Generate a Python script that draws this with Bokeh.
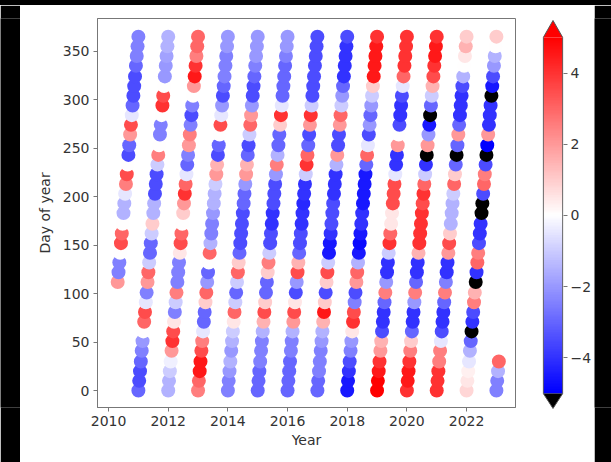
from bokeh.plotting import figure
from bokeh.models import ColumnDataSource, LinearColorMapper, FixedTicker, Range1d
from bokeh.layouts import row, column
from bokeh.embed import file_html
from bokeh.resources import INLINE
import numpy as np

# ---- data: anomaly value sampled along day of year for each year ----
DOY = [0, 10, 20, 30, 41, 51, 61, 71, 81, 91, 101, 112, 122, 132, 142, 152, 162, 172, 183,
       193, 203, 213, 223, 233, 243, 253, 264, 274, 284, 294, 304, 314, 324, 335, 345, 355, 365]

YEARS = [2010, 2011, 2012, 2013, 2014, 2015, 2016, 2017, 2018, 2019, 2020, 2021, 2022, 2023]

v2010 = [None] * 11 + [2, -2.5, -2.5, 0, 3.5, 3, 0, -1.5, -1.5, -0.5, 2.5, 3.5, 0, -3.5, -3, 2,
                       3.5, -0.5, -3, -3.5, -3.5, -3.5, -3, -2.5, -2.5, -2.5]
v2011 = [-3, -3.5, -3.5, -3, -2.5, -2, 0, 3, 3.5, -0.5, -2.5, 2, 3, -1, -3, -3, -1, 1, -1.5, -1.5,
         -3.5, -3.5, -3.5, -1, 2.5, 0, -2.5, -2.5, 0, 4, 3.5, 0, -2, -2, -1.8, -1.5, -1.5]
v2012 = [-1.5, -1.5, -1, -0.3, 2, 4, 3.5, 0.5, -2.5, -1, 2.5, -2.5, -2.5, -2.5, 0.5, 3.5, 3, 0, 1, 2,
         4, 3, -0.5, -3, -2.5, 2, 2.5, -2.5, -3.5, -2.5, 0, 2, 4.5, 4, 2.5, 3, 3]
v2013 = [2.5, 3, 4.5, 4.5, 3.5, 2.5, -0.5, -3, -3, 1, 3, -2, -3, 0, 3, -1.5, -2.5, -2.5, -2, -1.5,
         -1.5, -1, 2, 1.5, -3.5, -3, 0, 3.5, -0.5, -2, -3.5, -3, -2.5, -2.5, -2.5, -2, -2]
v2014 = [-2.5, -2.5, -2, -1.5, -2, -1.5, -1, 0.5, 3, -1, -3, -1, 3, 1, -3, -3.5, -3.5, -3.5, -3.5, -3,
         -3, -2, 2, 1.5, -3, -3.5, -1, 3, 2, -2, -3.5, -3.5, -3, -2.5, -2, -2, -2]
v2015 = [-3, -3, -3, -2.5, -2.5, -2.5, -1.5, 1.5, 3.5, 1, -3, -3, 1, 2.5, -1, -3.5, -3.5, -4, -4, -3.5,
         -3.5, -3.5, -2, 2.5, -1.5, -3, -3, 1, 4, -0.5, -3, -3, -3, -3, -2.5, -2, -2]
v2016 = [-3, -3, -3, -3, -2.5, -2.5, -1.5, 2, 3.5, 0.5, -3.5, -2, 3.5, 1.5, -3, -3.5, -3.5, -4, -4, -4.2,
         -4, -4, -1, 4, 3, -3, -3.5, 2, 4, -1, -3.5, -3.5, -3.5, -3.5, -3.5, -3.5, -3.5]
v2017 = [-3, -3, -2.5, -2.5, -2.5, -2, -1.5, 1.5, 4.5, 1, -3.5, 1, 3.5, -1, -4.5, -4.5, -4, -3.5, -3.5, -3.5,
         -4, -4, -4, -1.5, 2, -3.5, -3.5, 2, 3, -1, -2, -3, -4, -4, -4, -4, -3.5]
v2018 = [-4.5, -4.5, -4, -3.5, -2.5, -2, 0.5, 4, 3.5, -2.5, -3.5, 2, 3, -1.5, -4.5, -4.8, -4.5, -4, -4, -4.5,
         -4.5, -4.5, -4.5, -3, 3, -0.5, -3.5, -2, -3, -2, -1, 1, 4.5, 4.5, 4.5, 4.5, 4]
v2019 = [5, 5, 4.5, 4, 2, 1.5, -3.5, -4, -4, -3, 2.5, -2, -4, -4, -1, 4, 3, 0.5, 0.5, 3.5,
         3.5, 3.5, -0.5, -4, -4, 2, 0, -3.5, -4, -4, -3.5, -0.5, 3, 4, 4, 4, 4]
v2020 = [4, 4.5, 4.5, 4, 2.5, 1, -3, -4, -4, -2, 2.5, -3, -4, -4, 1.5, 4, 4, 4, 4, 3.5,
         4, 3, -1, -4, -5.3, 2, -2, -4.5, -5.5, -3, -1, 1.5, 3.5, 4, 4.5, 4.5, 4]
v2021 = [4, 4, 4, 2.5, 2.5, -0.5, -3.5, -4, -4, -3, 2.5, -2.5, -4, -4, 2, 3.5, 1, -1.5, -1.5, -1.5,
         -1, 3, 1, -3, -5.3, -3, 2, -3, -4, -4, -4, -3.5, -1.5, 0, 0.5, 1.5, 1]
v2022 = [0.8, 0.5, 0.3, -0.5, -1.5, -3, -5.5, -4, -3.5, 2.5, 1.5, -5.5, -4, 3, 2.5, -3.5, -4, -4, -5.8, -5.8,
         -3.5, 3, 2.5, -3.5, -5.5, -5, 2, -4, -4, -4, -5.5, -4.5, -3.5, -2, -1.5, 0, 1]
v2023 = [-2.5, -2.5, -1.5, 3] + [None] * 33

SERIES = [v2010, v2011, v2012, v2013, v2014, v2015, v2016, v2017, v2018, v2019, v2020, v2021, v2022, v2023]

X_TICKS = [2010, 2012, 2014, 2016, 2018, 2020, 2022]
Y_TICKS = [0, 50, 100, 150, 200, 250, 300, 350]
CB_TICKS = [-4, -2, 0, 2, 4]
CB_LABELS = {-4: "\u22124", -2: "\u22122", 0: "0", 2: "2", 4: "4"}

# ---- build point table ----
xs, ys, vs = [], [], []
for yr, vals in zip(YEARS, SERIES):
    for d, v in zip(DOY, vals):
        if v is None:
            continue
        xs.append(yr + d / 365.0)
        ys.append(d)
        vs.append(v)
src = ColumnDataSource(dict(x=xs, y=ys, v=vs))

# bwr colormap
pal = []
for i in range(256):
    t = i / 255
    if t < 0.5:
        c = int(round(255 * t * 2))
        pal.append("#%02x%02x%02x" % (c, c, 255))
    else:
        c = int(round(255 * (1 - t) * 2))
        pal.append("#%02x%02x%02x" % (255, c, c))
mapper = LinearColorMapper(palette=pal, low=-5, high=5, low_color="#000000", high_color="#ff0000")

FONT = "DejaVu Sans"
TXT = "#333333"
SPINE = "#777777"
FS = "14px"
H = 457

p = figure(frame_width=418, frame_height=389,
           min_border_left=77, min_border_right=15, min_border_top=13, min_border_bottom=55,
           x_range=Range1d(2009.63, 2023.64), y_range=Range1d(-17.5, 383.7),
           toolbar_location=None, output_backend="svg")
p.scatter(x="x", y="y", source=src, marker="circle", size=14,
          fill_color={"field": "v", "transform": mapper}, line_color=None)

p.xgrid.visible = False
p.ygrid.visible = False
p.outline_line_color = SPINE
p.outline_line_width = 1
p.background_fill_color = "white"
p.border_fill_color = "white"
p.xaxis.ticker = FixedTicker(ticks=X_TICKS)
p.yaxis.ticker = FixedTicker(ticks=Y_TICKS)
p.xaxis.axis_label = "Year"
p.yaxis.axis_label = "Day of year"
for ax in (p.xaxis[0], p.yaxis[0]):
    ax.axis_line_color = SPINE
    ax.major_tick_line_color = SPINE
    ax.major_tick_out = 4
    ax.major_tick_in = 0
    ax.minor_tick_out = 0
    ax.minor_tick_in = 0
    ax.major_label_text_font = FONT
    ax.major_label_text_font_size = FS
    ax.major_label_text_color = TXT
    ax.axis_label_text_font = FONT
    ax.axis_label_text_font_size = FS
    ax.axis_label_text_font_style = "normal"
    ax.axis_label_text_color = TXT
    ax.major_label_standoff = 4
p.xaxis.axis_label_standoff = 3
p.yaxis.axis_label_standoff = 7

# ---- colorbar as its own small figure ----
top_v, bot_v = 5.534, -5.478
cb = figure(frame_width=21, frame_height=392,
            min_border_left=12, min_border_right=30, min_border_top=13, min_border_bottom=52,
            x_range=Range1d(-0.04, 1.04), y_range=Range1d(bot_v, top_v),
            x_axis_location=None, y_axis_location="right",
            toolbar_location=None, output_backend="svg")
grad = np.linspace(-5, 5, 400).reshape(400, 1)
cb.image(image=[grad], x=0, y=-5, dw=1, dh=10, color_mapper=mapper)
cb.patch(x=[0, 1, 0.5], y=[5, 5, 5.478], fill_color="#ff0000", line_color=None)
cb.patch(x=[0, 1, 0.5], y=[-5, -5, -5.42], fill_color="#000000", line_color=None)
cb.line(x=[0, 0, 0.5, 1, 1, 0.5, 0], y=[-5, 5, 5.478, 5, -5, -5.42, -5], line_color="#555555", line_width=1)
cb.xgrid.visible = False
cb.ygrid.visible = False
cb.outline_line_color = None
cb.border_fill_color = "white"
ya = cb.yaxis[0]
ya.ticker = FixedTicker(ticks=CB_TICKS)
ya.major_label_overrides = CB_LABELS
ya.axis_line_color = None
ya.major_tick_line_color = SPINE
ya.major_tick_out = 4
ya.major_tick_in = 0
ya.minor_tick_out = 0
ya.minor_tick_in = 0
ya.major_label_standoff = 3
ya.major_label_text_font = FONT
ya.major_label_text_font_size = FS
ya.major_label_text_color = TXT


def black_block(w, h):
    b = figure(width=w, height=h, min_border=0, toolbar_location=None, output_backend="svg",
               x_axis_location=None, y_axis_location=None, x_range=Range1d(0, 1), y_range=Range1d(0, 1))
    b.background_fill_color = "black"
    b.border_fill_color = "black"
    b.outline_line_color = None
    b.xgrid.visible = False
    b.ygrid.visible = False
    return b


top_bar = black_block(611, 5)
left_bar = black_block(20, H)
right_bar = black_block(19, H)
inner = row(left_bar, p, cb, right_bar, styles={"background-color": "white"})
layout = column(top_bar, inner, styles={"background-color": "black"})

open("out.html", "w").write(file_html(layout, INLINE))
